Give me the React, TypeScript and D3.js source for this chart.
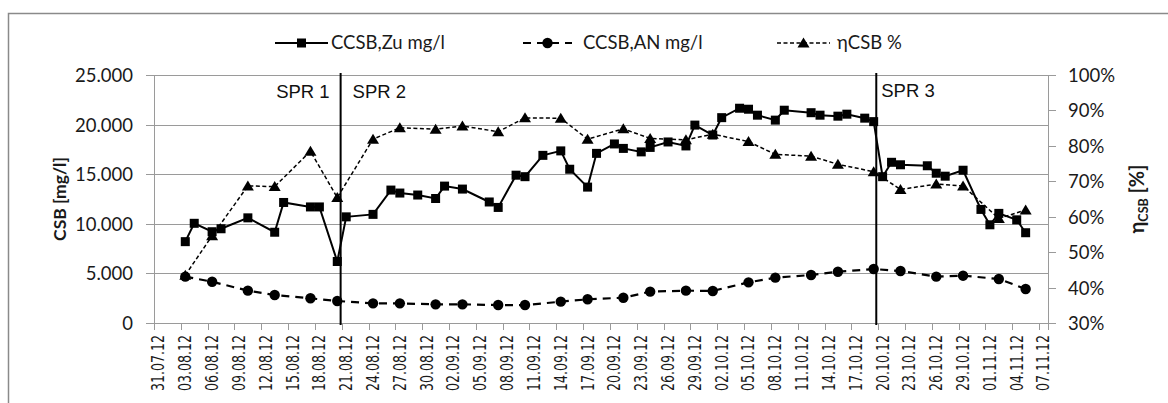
import React from "react";
import * as d3 from "d3";

// ---------- DATA ----------
const zuDates = ["03.08.12","04.08.12","06.08.12","07.08.12","10.08.12","13.08.12","14.08.12","17.08.12","18.08.12","20.08.12","21.08.12","24.08.12","26.08.12","27.08.12","29.08.12","31.08.12","01.09.12","03.09.12","06.09.12","07.09.12","09.09.12","10.09.12","12.09.12","14.09.12","15.09.12","17.09.12","18.09.12","20.09.12","21.09.12","23.09.12","24.09.12","26.09.12","28.09.12","29.09.12","01.10.12","02.10.12","04.10.12","05.10.12","06.10.12","08.10.12","09.10.12","12.10.12","13.10.12","15.10.12","16.10.12","18.10.12","19.10.12","20.10.12","21.10.12","22.10.12","25.10.12","26.10.12","27.10.12","29.10.12","31.10.12","01.11.12","02.11.12","04.11.12","05.11.12"];
const zuValues = [8200,10050,9200,9500,10600,9150,12150,11700,11700,6200,10700,10950,13400,13100,12900,12550,13800,13500,12200,11650,14900,14750,16900,17350,15500,13700,17100,18050,17600,17250,17700,18250,17850,19950,18950,20700,21650,21550,20950,20450,21450,21200,20950,20850,21050,20650,20300,14750,16200,15950,15850,15100,14800,15400,11450,9900,11050,10400,9100];

const anDates = ["03.08.12","06.08.12","10.08.12","13.08.12","17.08.12","20.08.12","24.08.12","27.08.12","31.08.12","03.09.12","07.09.12","10.09.12","14.09.12","17.09.12","21.09.12","24.09.12","28.09.12","01.10.12","05.10.12","08.10.12","12.10.12","15.10.12","19.10.12","22.10.12","26.10.12","29.10.12","02.11.12","05.11.12"];
const anValues = [4670,4160,3260,2820,2490,2220,1980,1980,1880,1880,1810,1810,2150,2390,2550,3160,3260,3230,4100,4570,4840,5170,5440,5240,4670,4770,4440,3430];

const etaDates = anDates;
const etaValues = [43.5,54.6,68.7,68.5,78.5,65.4,81.9,85.1,84.7,85.6,84.0,87.9,87.8,81.9,84.8,82.1,81.7,83.3,81.2,77.6,77.1,74.8,72.7,67.7,69.2,68.7,59.5,61.9];

const seriesNames = ["CCSB,Zu mg/l", "CCSB,AN mg/l", "ηCSB %"];
const phaseLabels = ["SPR 1", "SPR 2", "SPR 3"];
const phaseBoundaries = ["2012-08-20T21:00:00Z", "2012-10-19T19:00:00Z"];
const xStart = "31.07.12";
const xEnd = "08.11.12";
const leftDomain = [0, 25000];
const rightDomain = [30, 100];

// ---------- LAYOUT ----------
const W = 1168, H = 403;
const L = 154, R = 1048, T = 75, B = 323;
const FONT = "Lato, 'Open Sans', sans-serif";

const parse = d3.utcParse("%d.%m.%y");
const noon = (s: string) => d3.utcHour.offset(parse(s) as Date, 12);

const x = d3.scaleUtc().domain([parse(xStart) as Date, parse(xEnd) as Date]).range([L, R]);
const yL = d3.scaleLinear().domain(leftDomain).range([B, T]);
const yR = d3.scaleLinear().domain(rightDomain).range([B, T]);

const de = d3.formatLocale({ decimal: ",", thousands: ".", grouping: [3], currency: ["", "€"] });
const fmtL = de.format(",d");
const fmtDate = d3.utcFormat("%d.%m.%y");

const zu = zuDates.map((d, i) => ({ x: x(noon(d)), y: yL(zuValues[i]) }));
const an = anDates.map((d, i) => ({ x: x(noon(d)), y: yL(anValues[i]) }));
const eta = etaDates.map((d, i) => ({ x: x(noon(d)), y: yR(etaValues[i]) }));

const line = d3.line<{ x: number; y: number }>().x((d) => d.x).y((d) => d.y);

const xTicks = d3.utcDay.range(parse(xStart) as Date, parse(xEnd) as Date, 3);
const lTicks = yL.ticks(5);
const rTicks = yR.ticks(7);

const Square = ({ cx, cy, s = 9 }: any) => <rect x={cx - s / 2} y={cy - s / 2} width={s} height={s} fill="#000" />;
const Circle = ({ cx, cy }: any) => <circle cx={cx} cy={cy} r={5.2} fill="#000" />;
const Tri = ({ cx, cy }: any) => (
  <path d={`M${cx},${cy - 5.5}L${cx + 6},${cy + 4.5}L${cx - 6},${cy + 4.5}Z`} fill="#000" />
);

const legendLayout = [
  { x0: 275, x1: 328, tx: 331, dash: undefined, w: 2, mk: "sq" },
  { x0: 523, x1: 572, tx: 583, dash: "8,6", w: 2.2, mk: "ci" },
  { x0: 777, x1: 830, tx: 837, dash: "4,2.5", w: 1.5, mk: "tr" },
];

export default function App() {
  return (
    <svg width={W} height={H} style={{ position: "absolute", left: 0, top: 0, background: "#fff" }} fontFamily={FONT}>
      {/* outer frame */}
      <path d={`M8.5,${H + 2}V13.5H${W + 2}`} fill="none" stroke="#8a8a8a" strokeWidth={1.5} />

      {/* legend */}
      {legendLayout.map((lg, i) => {
        const cx = (lg.x0 + lg.x1) / 2;
        const cy = 43;
        return (
          <g key={i}>
            <line x1={lg.x0} x2={lg.x1} y1={cy} y2={cy} stroke="#000" strokeWidth={lg.w} strokeDasharray={lg.dash} />
            {lg.mk === "sq" && <Square cx={cx} cy={cy} />}
            {lg.mk === "ci" && <Circle cx={cx} cy={cy} />}
            {lg.mk === "tr" && <Tri cx={cx} cy={cy} />}
            <text x={lg.tx} y={cy} dy="0.35em" fontSize={18.5} fill="#1a1a1a">{seriesNames[i]}</text>
          </g>
        );
      })}

      {/* gridlines and left ticks */}
      {lTicks.map((t) => {
        const yy = Math.round(yL(t)) + 0.5;
        return (
          <g key={"l" + t}>
            <line x1={L - 8} x2={R} y1={yy} y2={yy} stroke="#9a9a9a" strokeWidth={1} />
            <text x={133} y={yy} dy="0.35em" textAnchor="end" fontSize={18.5} fill="#1a1a1a">{fmtL(t)}</text>
          </g>
        );
      })}
      {/* right ticks */}
      {rTicks.map((t) => {
        const yy = Math.round(yR(t)) + 0.5;
        return (
          <g key={"r" + t}>
            <line x1={R} x2={R + 8} y1={yy} y2={yy} stroke="#9a9a9a" strokeWidth={1} />
            <text x={1068} y={yy} dy="0.35em" textAnchor="start" fontSize={18.5} fill="#1a1a1a">{t + "%"}</text>
          </g>
        );
      })}
      {/* axis lines */}
      <line x1={L + 0.5} x2={L + 0.5} y1={T} y2={B + 1} stroke="#9a9a9a" />
      <line x1={R + 0.5} x2={R + 0.5} y1={T} y2={B + 1} stroke="#9a9a9a" />

      {/* x ticks */}
      {xTicks.map((d) => {
        const xx = Math.round(x(d)) + 0.5;
        const lx = x(d3.utcHour.offset(d, 12));
        return (
          <g key={"x" + d.getTime()}>
            <line x1={xx} x2={xx} y1={B} y2={B + 7} stroke="#9a9a9a" />
            <text
              transform={`translate(${lx},${335}) rotate(-90)`}
              textAnchor="end"
              dy="0.35em"
              fontSize={17}
              textLength={56}
              lengthAdjust="spacingAndGlyphs"
              fontFamily="'DejaVu Sans', sans-serif"
              fill="#1a1a1a"
            >
              {fmtDate(d)}
            </text>
          </g>
        );
      })}
      <line x1={R + 0.5} x2={R + 0.5} y1={B} y2={B + 7} stroke="#9a9a9a" />

      {/* axis titles */}
      <text transform={`translate(60,${(T + B) / 2}) rotate(-90)`} textAnchor="middle" dy="0.35em" fontSize={17.5} fontWeight="bold" fill="#1a1a1a">
        CSB [mg/l]
      </text>
      <text transform={`translate(1137,${(T + B) / 2}) rotate(-90)`} textAnchor="middle" dy="0.35em" fontSize={20} fontWeight="bold" fill="#1a1a1a">
        η<tspan fontSize={12.5} dy="4">CSB</tspan><tspan dy="-4"> [%]</tspan>
      </text>

      {/* phase separators */}
      {phaseBoundaries.map((b, i) => {
        const xx = x(new Date(b));
        return <line key={"p" + i} x1={xx} x2={xx} y1={T - 2} y2={B + 2} stroke="#000" strokeWidth={2} />;
      })}
      <text x={x(new Date(phaseBoundaries[0])) - 11} y={98} textAnchor="end" fontSize={18.5} fontFamily="'Liberation Sans', Arial, sans-serif" fill="#111">{phaseLabels[0]}</text>
      <text x={x(new Date(phaseBoundaries[0])) + 12} y={98} textAnchor="start" fontSize={18.5} fontFamily="'Liberation Sans', Arial, sans-serif" fill="#111">{phaseLabels[1]}</text>
      <text x={x(new Date(phaseBoundaries[1])) + 5} y={97} textAnchor="start" fontSize={18.5} fontFamily="'Liberation Sans', Arial, sans-serif" fill="#111">{phaseLabels[2]}</text>

      {/* series */}
      <path d={line(an) || ""} fill="none" stroke="#000" strokeWidth={2.2} strokeDasharray="8,6" />
      <path d={line(eta) || ""} fill="none" stroke="#000" strokeWidth={1.5} strokeDasharray="4,2.5" />
      <path d={line(zu) || ""} fill="none" stroke="#000" strokeWidth={2} />
      {an.map((p, i) => <Circle key={"c" + i} cx={p.x} cy={p.y} />)}
      {eta.map((p, i) => <Tri key={"t" + i} cx={p.x} cy={p.y} />)}
      {zu.map((p, i) => <Square key={"s" + i} cx={p.x} cy={p.y} />)}
    </svg>
  );
}
